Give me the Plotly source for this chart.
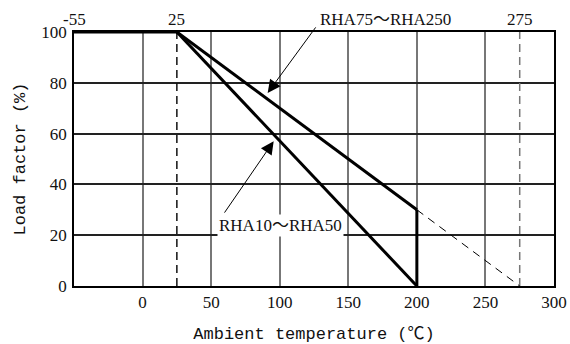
import plotly.graph_objects as go

# Data
temp_flat = [-50, 25]
load_flat = [100, 100]
rha75_temp = [25, 200]
rha75_load = [100, 30]
rha75_ext_temp = [200, 275]
rha75_ext_load = [30, 0]
rha10_temp = [25, 200]
rha10_load = [100, 0]
cut_temp = [200, 200]
cut_load = [0, 30]
limit_lines = [25, 275]
x_ticks = [0, 50, 100, 150, 200, 250, 300]
y_ticks = [0, 20, 40, 60, 80, 100]
top_labels = [(-50, "-55"), (25, "25"), (275, "275")]

SERIF = "Liberation Serif, Noto Sans CJK JP"
MONO = "Liberation Mono, Noto Sans CJK JP"

fig = go.Figure()

fig.add_trace(go.Scatter(x=[limit_lines[0]] * 2, y=[0, 100], mode="lines",
                         line=dict(color="#111", width=1.5, dash="8px,5px"), showlegend=False))
fig.add_trace(go.Scatter(x=[limit_lines[1]] * 2, y=[0, 100], mode="lines",
                         line=dict(color="#777", width=1.5, dash="8px,5px"), showlegend=False))

fig.add_trace(go.Scatter(x=rha75_ext_temp, y=rha75_ext_load, mode="lines",
                         line=dict(color="black", width=1, dash="8px,6px"), showlegend=False))
for xs, ys in [(temp_flat, load_flat), (rha75_temp, rha75_load),
               (rha10_temp, rha10_load), (cut_temp, cut_load)]:
    fig.add_trace(go.Scatter(x=xs, y=ys, mode="lines",
                             line=dict(color="black", width=3), showlegend=False))

annotations = []
for xv, txt in top_labels:
    annotations.append(dict(x=xv, y=1, xref="x", yref="paper", text=txt, showarrow=False,
                            yanchor="bottom", yshift=1, font=dict(family=SERIF, size=17, color="#111")))

annotations.append(dict(x=177.4, y=1, xref="x", yref="paper", text="RHA75～RHA250", showarrow=False,
                        yanchor="bottom", yshift=1, font=dict(family=SERIF, size=17, color="#111")))
annotations.append(dict(x=100.7, y=24, xref="x", yref="y", text="RHA10～RHA50", showarrow=False,
                        bgcolor="white", borderpad=1,
                        font=dict(family=SERIF, size=17, color="#111")))
annotations.append(dict(x=91.2, y=76, ax=127, ay=102.4, xref="x", yref="y", axref="x", ayref="y",
                        text="", showarrow=True, arrowhead=2, arrowsize=2.6, arrowwidth=1, arrowcolor="black"))
annotations.append(dict(x=95.6, y=57, ax=59, ay=28.3, xref="x", yref="y", axref="x", ayref="y",
                        text="", showarrow=True, arrowhead=2, arrowsize=2.6, arrowwidth=1, arrowcolor="black"))

fig.update_layout(
    width=570, height=344,
    margin=dict(l=74, r=16, t=32, b=58, autoexpand=False),
    paper_bgcolor="white", plot_bgcolor="white",
    annotations=annotations,
    xaxis=dict(range=[-50, 300], tickvals=x_ticks, showgrid=True, gridcolor="#777", gridwidth=1.5,
               showline=True, mirror=True, linecolor="black", linewidth=1.5, zeroline=False,
               automargin=False, ticks="", tickfont=dict(family=SERIF, size=17, color="#111"),
               title=dict(text="Ambient temperature (℃)", font=dict(family=MONO, size=17, color="#111"),
                          standoff=19)),
    yaxis=dict(range=[0, 100], tickvals=y_ticks, showgrid=True, gridcolor="#222", gridwidth=1.5,
               showline=True, mirror=True, linecolor="black", linewidth=1.5, zeroline=False,
               automargin=False, ticks="", ticklabelstandoff=2,
               tickfont=dict(family=SERIF, size=17, color="#111"),
               title=dict(text="Load factor (%)", font=dict(family=MONO, size=17, color="#111"),
                          standoff=11)),
)

fig.write_html("out.html", config={"displayModeBar": False},
               post_script="document.body.style.margin='0';document.body.style.overflow='hidden';")
